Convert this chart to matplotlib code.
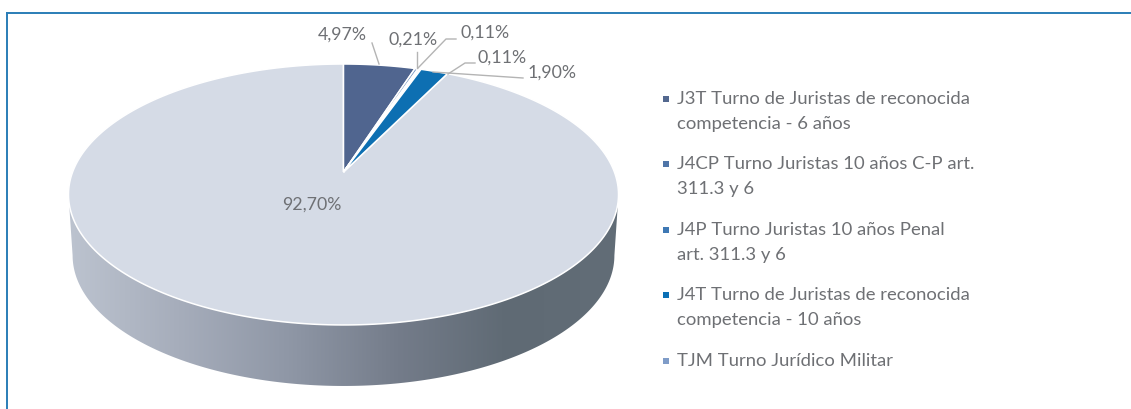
import matplotlib
matplotlib.use('Agg')
import matplotlib.pyplot as plt
from matplotlib.colors import LinearSegmentedColormap
from matplotlib.patches import Polygon
import numpy as np

plt.rcParams['font.family'] = ['Lato', 'DejaVu Sans']

# datos
valores = [4.97, 0.21, 0.11, 0.11, 1.90, 92.70]
etiquetas = ['4,97%', '0,21%', '0,11%', '0,11%', '1,90%', '92,70%']
categorias = ['J3T Turno de Juristas de reconocida\ncompetencia - 6 años',
              'J4CP Turno Juristas 10 años C-P art.\n311.3 y 6',
              'J4P Turno Juristas 10 años Penal\nart. 311.3 y 6',
              'J4T Turno de Juristas de reconocida\ncompetencia - 10 años',
              'TJM Turno Jurídico Militar']

colores = ['#50658f', '#7d9ac4', '#7d9ac4', '#7d9ac4', '#0d6fb2', '#d5dbe6']
colores_ley = ['#53688f', '#4f75a8', '#3e78b4', '#0b70b5', '#7f9cc8']
gris = '#6e7074'

fig = plt.figure(figsize=(11.31, 4.09), dpi=100)
ax = fig.add_axes([0, 0, 1, 1])


# circulo unidad -> elipse con perspectiva (el centro queda por encima del centro de la elipse)
def proyecta(ang):
    u, v = np.sin(ang), np.cos(ang)
    w = 1 + 0.1724 * v
    return 343.5 + 270.9 * u / w, 172 - 126.6 * v / w


# lateral del disco con degradado
a = np.linspace(np.pi / 2 + 0.1733, 3 * np.pi / 2 - 0.1733, 200)
xr, yr = proyecta(a)
xb = 343.5 + (xr - 343.5) * 0.985
yb = yr + 61
lado = Polygon(np.r_[np.c_[xr, yr], np.c_[xb, yb][::-1]], closed=True, transform=ax.transData,
               fc='none', ec='none')
ax.add_patch(lado)
cmap = LinearSegmentedColormap.from_list('lado', ['#bcc3cf', '#a6adbb', '#8f97a6', '#747c8a', '#5f6a74', '#626d77'])
im = ax.imshow(np.linspace(0, 1, 256)[None, :], cmap=cmap, extent=(69, 618, 400, 190), aspect='auto', zorder=1)
im.set_clip_path(lado)

# sectores
fin = np.cumsum(valores) / np.sum(valores) * 2 * np.pi
ini = np.r_[0, fin[:-1]]
orden = [5, 0, 1, 2, 3, 4]
for i in orden:
    t = np.linspace(ini[i], fin[i], max(int(fin[i] - ini[i]) * 60, 20))
    x, y = proyecta(t)
    ax.fill(np.r_[343.5, x], np.r_[172, y], fc=colores[i], ec='white', lw=1.1, zorder=2, joinstyle='miter')

# etiquetas y lineas guia
pos_etq = [(342, 35), (413, 40), (485, 33), (502, 58), (552, 73), (312, 205)]
guias = [[(372, 43), (379, 64)],
         [(417, 52), (417, 68)],
         [(456, 39), (446, 39), (418, 68)],
         [(475, 63), (465, 63), (448, 74)],
         [(523, 78), (433, 72)]]
for g in guias:
    g = np.array(g)
    ax.plot(g[:, 0], g[:, 1], color='#b4b4b4', lw=1.0, zorder=3)
for txt, (x, y) in zip(etiquetas, pos_etq):
    ax.text(x, y, txt, ha='center', va='center', color=gris, fontsize=12.8, zorder=4)

# leyenda
pos_ley = [111.5, 176.5, 242.5, 307.5, 361]
for cat, col, y in zip(categorias, colores_ley, pos_ley):
    n = cat.count('\n')
    ax.plot([666], [y - 12.5 * n], marker='s', ms=4.5, color=col, mew=0, ls='none', zorder=4)
    ax.text(677, y, cat, ha='left', va='center', color=gris, fontsize=13.3, linespacing=1.72, zorder=4)

# marco
ax.plot([7, 7], [13, 409], color='#2a7db7', lw=1.4, zorder=5)
ax.plot([7, 1131], [13, 13], color='#2a7db7', lw=1.4, zorder=5)

ax.set_xlim(0, 1131)
ax.set_ylim(409, 0)
ax.axis('off')

plt.savefig('out.png', dpi=100)
